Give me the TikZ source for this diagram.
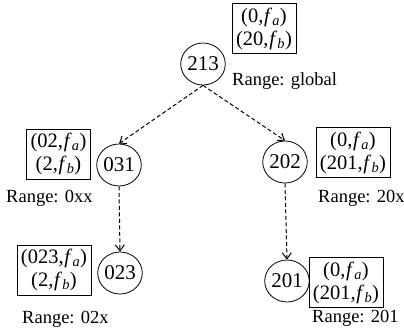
\documentclass[tikz,border=0pt]{standalone}
\usepackage{fontspec}
\setmainfont{Liberation Serif}
\usetikzlibrary{shapes.geometric,arrows.meta}
\newcommand{\fa}[1]{(#1,\kern0.8bp\textit{f}\textsubscript{\textit{a}})}
\newcommand{\fb}[1]{(#1,\kern0.8bp\textit{f}\textsubscript{\textit{b}})}
\begin{document}
\begin{tikzpicture}[x=1bp,y=-1bp,
  peer/.style={draw, ellipse, minimum width=38bp, minimum height=42bp, inner sep=0pt, line width=0.8pt, font=\fontsize{21bp}{23bp}\selectfont},
  table/.style={draw, rectangle, align=center, inner sep=4bp, minimum height=50bp, line width=0.6pt, font=\fontsize{20.5bp}{23bp}\selectfont},
  rangelbl/.style={anchor=west, inner sep=0pt, font=\fontsize{18.5bp}{22bp}\selectfont},
  link/.style={dashed, dash pattern=on 4bp off 2.5bp, line width=1pt, -{Straight Barb[length=6bp,width=9bp]}}]
\useasboundingbox (0,0) rectangle (404,331);
% peers
\node[peer] (p213) at (203,64) {213};
\node[peer] (p031) at (119,165) {031};
\node[peer] (p202) at (285,162) {202};
\node[peer] (p023) at (120,273) {023};
\node[peer] (p201) at (287,281) {201};
% tables
\node[table] (t213) at (264,28.5) {\fa{0}\\\fb{20}};
\node[table] (t031) at (58.5,154) {\fa{02}\\\fb{2}};
\node[table] (t202) at (353,152.5) {\fa{0}\\\fb{201}};
\node[table] (t023) at (54,270) {\fa{023}\\\fb{2}};
\node[table] (t201) at (346,282.5) {\fa{0}\\\fb{201}};
% ranges
\node[rangelbl] (r213) at (232,81) {Range: global};
\node[rangelbl] (r031) at (6,198) {Range: 0xx};
\node[rangelbl] (r202) at (318,198) {Range: 20x};
\node[rangelbl] (r023) at (22,319) {Range: 02x};
\node[rangelbl] (r201) at (312,318) {Range: 201};
% links
\draw[link] (p213.south) -- (p031.north);
\draw[link] (p213.south) -- (p202.north);
\draw[link] (p031.south) -- (p023.north);
\draw[link] (p202.south) -- (p201.north);
\end{tikzpicture}
\end{document}
